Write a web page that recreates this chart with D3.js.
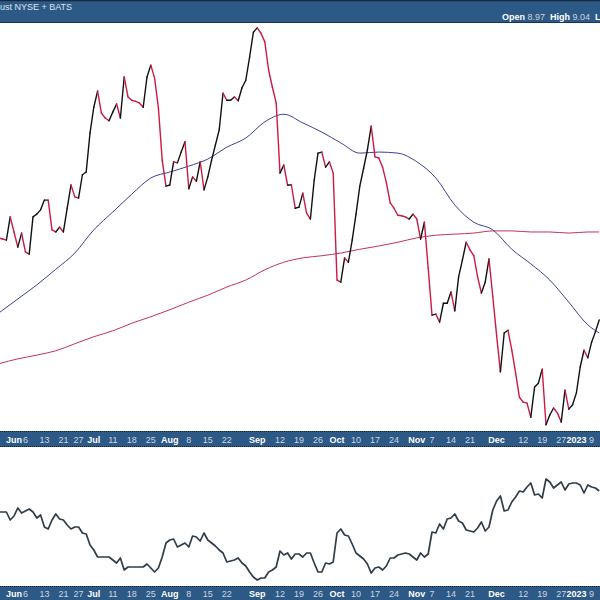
<!DOCTYPE html>
<html><head><meta charset="utf-8">
<script src="https://cdn.jsdelivr.net/npm/d3@7"></script>
<style>html,body{margin:0;padding:0;background:#fff;} svg{display:block;}</style>
</head><body>
<svg id="c" width="600" height="600"></svg>
<script>
// ---------- data ----------
const startDate = "2022-05-25", endDate = "2023-01-11";
const holidays = ["2022-05-30","2022-06-20","2022-07-04","2022-09-05","2022-11-24","2022-12-26","2023-01-02"];

const closes = [
10.52,10.50,10.48,10.91,10.63,10.35,10.61,10.26,10.22,10.91,
10.96,11.04,11.22,11.22,10.67,10.63,10.72,10.63,11.07,11.50,
11.28,11.26,11.69,11.74,12.46,12.94,13.24,12.83,12.74,12.69,
12.85,13.00,12.74,13.50,13.13,13.07,
13.05,
13.02,12.94,13.50,13.72,13.48,12.93,11.96,11.48,11.50,11.93,
11.91,12.11,12.30,11.43,11.65,11.57,11.93,11.41,11.65,11.96,
12.24,12.52,13.20,13.07,13.07,13.13,13.06,13.30,13.44,13.87,
14.33,14.41,14.31,14.15,13.63,13.31,13.02,11.72,11.87,11.50,
11.50,11.07,11.09,11.35,10.98,10.87,11.59,12.09,12.11,11.83,
11.93,11.72,9.74,9.70,10.15,10.07,10.48,10.96,11.48,11.81,
12.15,12.59,12.02,12.00,11.83,11.54,11.17,11.07,10.94,
10.93,
10.91,10.87,10.96,10.87,10.50,10.81,9.96,9.09,9.11,8.96,
9.31,9.31,9.52,9.17,9.80,10.11,10.44,10.30,10.19,9.80,
9.50,9.70,10.13,9.43,8.72,8.04,8.76,8.81,8.44,8.02,
7.57,7.48,7.46,7.20,7.76,7.83,8.09,7.06,7.24,7.37,
7.28,7.11,7.70,7.35,7.43,7.65,8.13,8.44,8.30,8.59,8.78,9.00
];

const relative = [
0.88,0.88,0.88,0.80,0.84,0.92,0.87,0.89,0.91,0.88,
0.82,0.85,0.73,0.71,0.80,0.86,0.81,0.80,0.75,0.71,
0.73,0.73,0.67,0.66,0.55,0.50,0.43,0.43,0.43,0.43,
0.40,0.37,0.42,0.30,0.33,0.33,
0.33,
0.33,0.33,0.36,0.32,0.28,0.32,0.43,0.57,0.60,0.61,
0.53,0.55,0.57,0.53,0.64,0.63,0.59,0.67,0.60,0.57,
0.54,0.50,0.47,0.38,0.39,0.40,0.42,0.37,0.34,0.28,
0.23,0.20,0.22,0.22,0.28,0.30,0.33,0.49,0.45,0.47,
0.41,0.46,0.46,0.43,0.47,0.47,0.37,0.28,0.28,0.37,
0.36,0.38,0.67,0.71,0.65,0.64,0.56,0.47,0.44,0.41,
0.36,0.27,0.32,0.33,0.30,0.34,0.42,0.42,0.45,
0.46,
0.47,0.46,0.43,0.40,0.47,0.43,0.46,0.68,0.67,0.76,
0.71,0.81,0.82,0.86,0.79,0.77,0.70,0.69,0.68,0.72,
0.78,0.69,0.73,0.90,0.99,1.04,0.89,0.90,0.98,1.03,
1.09,1.08,1.13,1.17,1.05,1.06,1.02,1.21,1.18,1.12,
1.15,1.18,1.10,1.16,1.17,1.17,1.15,1.07,1.15,1.13,1.12,1.09
];

// moving averages, read every 5th trading day (plus the last day)
const ma50 = [9.13,9.39,9.65,9.94,10.24,10.67,11.00,11.33,11.63,11.74,11.85,11.98,12.20,12.37,12.67,12.81,12.65,12.48,12.28,12.09,12.11,12.09,11.93,11.63,11.13,10.81,10.67,10.31,10.04,9.74,9.33,8.91,8.76];
const ma200 = [8.19,8.28,8.35,8.43,8.56,8.69,8.80,8.94,9.06,9.19,9.33,9.46,9.61,9.74,9.93,10.07,10.15,10.19,10.24,10.31,10.37,10.44,10.52,10.57,10.59,10.61,10.65,10.65,10.63,10.63,10.61,10.63,10.63];

const tickDates = ["2022-06-01","2022-06-06","2022-06-13","2022-06-21","2022-06-27","2022-07-01","2022-07-11","2022-07-18","2022-07-25","2022-08-01","2022-08-08","2022-08-15","2022-08-22","2022-09-01","2022-09-12","2022-09-19","2022-09-26","2022-10-03","2022-10-10","2022-10-17","2022-10-24","2022-11-01","2022-11-07","2022-11-14","2022-11-21","2022-12-01","2022-12-12","2022-12-19","2022-12-27","2023-01-03","2023-01-09"];
const tickTexts = ["Jun","6","13","21","27","Jul","11","18","25","Aug","8","15","22","Sep","12","19","26","Oct","10","17","24","Nov","7","14","21","Dec","12","19","27","2023","9"];

const titleText = "ust NYSE + BATS";
const quoteNames = ["Open","High","L"];
const quoteValues = ["8.97","9.04",""];

// ---------- trading calendar ----------
const days = [];
{
  const hs = new Set(holidays);
  const d = new Date(startDate + "T00:00:00Z"), e = new Date(endDate + "T00:00:00Z");
  while (d <= e) {
    const wd = d.getUTCDay(), s = d.toISOString().slice(0,10);
    if (wd !== 0 && wd !== 6 && !hs.has(s)) days.push(s);
    d.setUTCDate(d.getUTCDate() + 1);
  }
}
const maDays = days.filter((d,k) => k % 5 === 0 || k === days.length - 1);

// ---------- layout ----------
const svg = d3.select("#c");
const W = 600;
const FONT = "'Liberation Sans', Arial, Helvetica, sans-serif";
const barFill = "#2c5985";

const x = d3.scalePoint().domain(days).range([-1.2, 599.2]);
const y = d3.scaleLinear().domain([7, 14.5]).range([428, 23]);
const y2 = d3.scaleLinear().domain([0.15, 1.53]).range([585, 447]);

// header
svg.append("rect").attr("x",0).attr("y",0).attr("width",W).attr("height",23).attr("fill",barFill);
svg.append("line").attr("x1",0).attr("x2",W).attr("y1",0.5).attr("y2",0.5).attr("stroke","#152a40").attr("stroke-width",1.5);
svg.append("line").attr("x1",0).attr("x2",W).attr("y1",22.5).attr("y2",22.5).attr("stroke","#1b3550").attr("stroke-width",1);
svg.append("text").attr("x",0).attr("y",10).attr("font-family",FONT).attr("font-size",9)
  .attr("fill","#dde5ee").text(titleText);
const q = svg.append("text").attr("x",502).attr("y",19.5).attr("font-family",FONT).attr("font-size",9);
quoteNames.forEach((n,k) => {
  q.append("tspan").attr("font-weight","bold").attr("fill","#ffffff").text((k ? "  " : "") + n);
  if (quoteValues[k]) q.append("tspan").attr("fill","#c9d4e0").text(" " + quoteValues[k]);
});
q.attr("xml:space","preserve").style("white-space","pre");

// clip for plot panels
const defs = svg.append("defs");
defs.append("clipPath").attr("id","mainClip").append("rect").attr("x",0).attr("y",23).attr("width",W).attr("height",408);
defs.append("clipPath").attr("id","lowClip").append("rect").attr("x",0).attr("y",447).attr("width",W).attr("height",139);

// main panel
const main = svg.append("g").attr("clip-path","url(#mainClip)");
const maLine = d3.line().x((d,k) => x(maDays[k])).y(d => y(d)).curve(d3.curveMonotoneX);
main.append("path").datum(ma200).attr("d",maLine).attr("fill","none").attr("stroke","#c4325a").attr("stroke-width",1);
main.append("path").datum(ma50).attr("d",maLine).attr("fill","none").attr("stroke","#3c3f98").attr("stroke-width",1);

const segs = d3.range(1, closes.length).map(k => ({a:k-1, b:k, up: closes[k] >= closes[k-1]}));
main.append("g").selectAll("line").data(segs).join("line")
  .attr("x1", s => x(days[s.a])).attr("y1", s => y(closes[s.a]))
  .attr("x2", s => x(days[s.b])).attr("y2", s => y(closes[s.b]))
  .attr("stroke", s => s.up ? "#111111" : "#cc1a44")
  .attr("stroke-width", 1.4).attr("stroke-linecap","round");

// axis bars
function axisBar(top, h, base) {
  svg.append("rect").attr("x",0).attr("y",top).attr("width",W).attr("height",h).attr("fill",barFill);
  [top + 0.5, top + h - 0.5].forEach(yy => {
    svg.append("line").attr("x1",0).attr("x2",W).attr("y1",yy).attr("y2",yy)
      .attr("stroke","#11263b").attr("stroke-width",1).attr("stroke-dasharray","1,1");
  });
  svg.append("g").selectAll("text").data(tickDates).join("text")
    .attr("x", d => x(d)).attr("y", base).attr("text-anchor","middle")
    .attr("font-family",FONT).attr("font-size",9)
    .attr("font-weight",(d,k) => /[A-Za-z]/.test(tickTexts[k]) || tickTexts[k].length === 4 ? "bold" : "normal")
    .attr("fill",(d,k) => /[A-Za-z]/.test(tickTexts[k]) || tickTexts[k].length === 4 ? "#ffffff" : "#ccd6e2")
    .text((d,k) => tickTexts[k]);
}
axisBar(431, 16, 442.5);

// lower panel
const low = svg.append("g").attr("clip-path","url(#lowClip)");
low.append("path").datum(relative)
  .attr("d", d3.line().x((d,k) => x(days[k])).y(d => y2(d)))
  .attr("fill","none").attr("stroke","#2f3c4a").attr("stroke-width",1.7).attr("stroke-linejoin","round");

axisBar(586, 16, 597);
</script>
</body></html>
